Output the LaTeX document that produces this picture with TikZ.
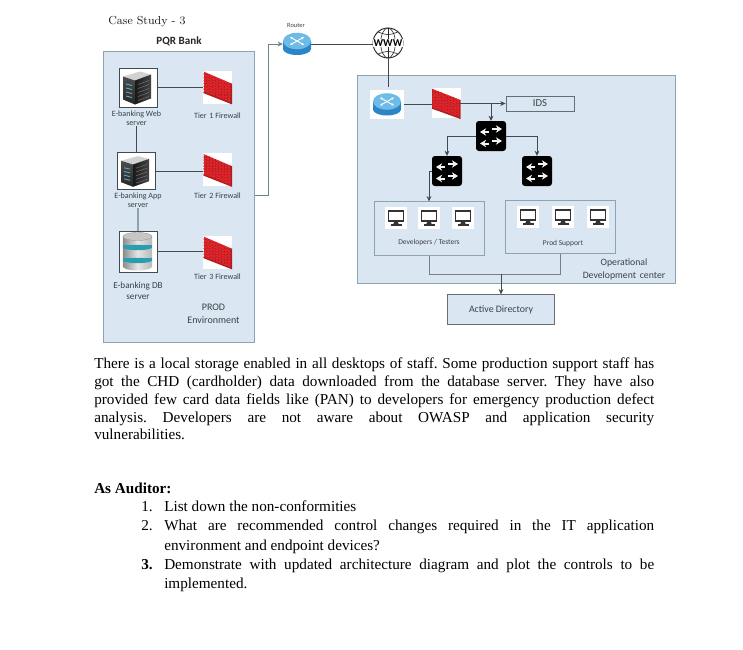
\documentclass[tikz,border=0pt]{standalone}
\usepackage{fontspec}
\usetikzlibrary{arrows.meta,calc}
\newfontfamily\bodyf{Liberation Serif}
\newfontfamily\carl{Carlito}
\definecolor{panel}{HTML}{DAE6F1}
\definecolor{edge}{HTML}{8FA3AE}
\definecolor{wire}{HTML}{404A50}
\definecolor{lab}{HTML}{3A4248}
\definecolor{brick}{HTML}{E3262C}
\definecolor{brickd}{HTML}{B01C20}
\definecolor{rtop}{HTML}{6DBBE6}
\definecolor{rside}{HTML}{2B86C5}
\definecolor{band}{HTML}{2C9DB0}
\tikzset{
  x=0.75pt,y=-0.75pt,
  box/.style={draw=edge,fill=panel,line width=0.8pt,inner sep=0pt},
  iconbox/.style={inner sep=0pt,outer sep=0pt},
  wirel/.style={draw=wire,line width=0.6pt},
  arr/.style={wirel,-{Stealth[length=4pt,width=3.6pt]}},
  lbl/.style={font=\carl\fontsize{6.05pt}{7pt}\selectfont,text=lab,align=center,inner sep=0pt},
  lblb/.style={font=\carl\fontsize{6.9pt}{8.6pt}\selectfont,text=lab,align=center,inner sep=0pt},
  swarrow/.style={draw=white!90!gray,line width=1.5pt,-{Stealth[length=4.6pt,width=5.6pt]}},
  pics/firewall/.style={code={
    \fill[white] (-14.5,-16.5) rectangle (14.5,16.5);
    \begin{scope}
      \clip (-14,-15.5) -- (14,-3.5) -- (14,16.5) -- (-14,5.5) -- cycle;
      \fill[brick] (-14,-16) rectangle (14,17);
      \foreach \k in {-26,-23.5,...,16} {\draw[brickd,line width=0.25pt] (-14,\k) -- (14,\k+12);}
      \foreach \k in {-14,-11,...,14} {\draw[brickd,line width=0.25pt,dash pattern=on 1pt off 1.2pt] (\k,-16) -- (\k,17);}
    \end{scope}
    \draw[brickd,line width=0.9pt] (14,-3.5) -- (14,16.5) -- (-14,5.5);
  }},
  pics/server/.style={code={
    \draw[draw=wire,fill=white,line width=0.6pt] (-19,-19.5) rectangle (19,19.5);
    \fill[gray!35] (-15,-11) -- (2,-16) -- (13,-13) -- (-3,-7) -- cycle;
    \shade[top color=gray!60!black,bottom color=black!85] (-15,-11) -- (-3,-7) -- (-3,17) -- (-15,12) -- cycle;
    \shade[left color=black!90,right color=gray!55!black] (-3,-7) -- (13,-13) -- (13,11) -- (-3,17) -- cycle;
    \foreach \a in {-4,0,4,8} {\fill[cyan!50!gray] (-12,\a) -- (-6,\a+1.5) -- (-6,\a+2.5) -- (-12,\a+1) -- cycle;}
    \foreach \a in {-3,1,5,9,13} {\draw[gray,line width=0.3pt] (0,\a) -- (11,\a-4);}
  }},
  pics/database/.style={code={
    \draw[draw=wire,fill=white,line width=0.6pt] (-19,-20.5) rectangle (19,20.5);
    \shade[left color=gray!90,right color=gray!55,middle color=gray!20] (-15,-15) -- (14,-15) -- (14,15) arc[start angle=0,end angle=-180,x radius=10.9pt,y radius=3pt] -- cycle;
    \foreach \a in {-7,6} {
      \fill[band] (-15,\a) rectangle (14,\a+3);
      \fill[band] (-0.5,\a+3) ellipse[x radius=10.9pt,y radius=2pt];
    }
    \fill[gray!45] (-0.5,-15) ellipse[x radius=10.9pt,y radius=3pt];
    \draw[gray!80,line width=0.3pt] (-0.5,-15) ellipse[x radius=10.9pt,y radius=3pt];
  }},
  pics/router/.style={code={
    \fill[rside] (-14,-3) -- (14,-3) -- (14,5) arc[start angle=0,end angle=-180,x radius=10.5pt,y radius=4.5pt] -- cycle;
    \fill[rtop] (0,-3) ellipse[x radius=10.5pt,y radius=6.2pt];
    \draw[white,line width=0.7pt,{Stealth[length=2pt,width=2pt]}-{Stealth[length=2pt,width=2pt]}] (-7,-7) -- (7,1);
    \draw[white,line width=0.7pt,{Stealth[length=2pt,width=2pt]}-{Stealth[length=2pt,width=2pt]}] (7,-7) -- (-7,1);
  }},
  pics/monitor/.style={code={
    \fill[white] (-11,-11) rectangle (11,11);
    \draw[black!80,line width=1pt,fill=white] (-7.5,-7) rectangle (7.5,3);
    \fill[black!80] (-1.5,3) -- (1.5,3) -- (3,7) -- (-3,7) -- cycle;
    \fill[black!80] (-5.5,6.4) rectangle (5.5,7.6);
  }},
  pics/switchbox/.style={code={
    \fill[black,rounded corners=2.2pt] (-15,-15) rectangle (15,15);
    \draw[swarrow] (-2,-4) -- (-11,-4);
    \draw[swarrow] (1,-7) -- (11,-7);
    \draw[swarrow] (-2,7.5) -- (-11,7.5);
    \draw[swarrow] (1,5) -- (11,5);
  }},
}
\begin{document}
\begin{tikzpicture}
\useasboundingbox (0,0) rectangle (743,650);
\fill[white] (0,0) rectangle (743,650);

% headings
\node[anchor=west,inner sep=0pt,font=\fontsize{8.7pt}{10pt}\selectfont,text=black!90] (cs) at (108,22) {Case Study - 3};
\node[inner sep=0pt,font=\carl\bfseries\fontsize{8.3pt}{10pt}\selectfont,text=black!85] (bank) at (179,41) {PQR Bank};

% panels
\node[box,minimum width=113.5pt,minimum height=218pt] (pqr) at (179,197) {};
\node[box,minimum width=238.5pt,minimum height=155.5pt] (odc) at (516.5,179.5) {};

% PROD icons
\node[iconbox,minimum width=28.5pt,minimum height=29.2pt] (srv1) at (138,87.5) {};
\pic at (srv1) {server};
\node[iconbox,minimum width=28.5pt,minimum height=27pt] (srv2) at (136,171) {};
\pic[yscale=0.93] at (srv2) {server};
\node[iconbox,minimum width=28.5pt,minimum height=30.8pt] (db) at (138,251.5) {};
\pic at (db) {database};
\node[iconbox,minimum width=21.7pt,minimum height=24.7pt] (fw1) at (217.5,87) {};
\pic at (fw1) {firewall};
\node[iconbox,minimum width=21.7pt,minimum height=24.7pt] (fw2) at (217.5,169.5) {};
\pic at (fw2) {firewall};
\node[iconbox,minimum width=21.7pt,minimum height=24.7pt] (fw3) at (217.5,252) {};
\pic at (fw3) {firewall};

\node[lbl] (srv1lab) at (136.5,118) {E-banking Web\\server};
\node[lbl] (srv2lab) at (138,200) {E-banking App\\server};
\node[lblb] (dblab) at (138,291) {E-banking DB\\server};
\node[lbl] (t1) at (217.5,115.5) {Tier\,\,1 Firewall};
\node[lbl] (t2) at (217.5,195.5) {Tier\,\,2 Firewall};
\node[lbl] (t3) at (217.5,276.5) {Tier\,\,3 Firewall};
\node[lblb,font=\carl\fontsize{7.5pt}{9.5pt}\selectfont] (prod) at (213.5,314) {PROD\\Environment};

\draw[wirel] (srv1.east) -- (srv1.east -| fw1.west);
\draw[wirel] (srv2.east) -- (srv2.east -| fw2.west);
\draw[wirel] (db.east) -- (db.east -| fw3.west);
\draw[wirel] (srv1lab.south -| srv2.north) -- (srv2.north);
\draw[wirel,draw=edge,line width=0.8pt] (srv2lab.south) -- (db.north);

% top chain
\node[iconbox,minimum width=21pt,minimum height=16.5pt] (r1) at (297,44) {};
\pic at (r1) {router};
\node[lbl,font=\carl\fontsize{4.8pt}{5pt}\selectfont] (rlab) at (296,25) {Router};
\coordinate (bus) at (268,44);
\draw[arr,draw=edge!80!black,line width=0.7pt] (t2 -| pqr.east) -| (bus) -- (r1.west);

\node[circle,draw=black!85,line width=0.7pt,minimum size=22.5pt,inner sep=0pt] (www) at (388,43) {};
\begin{scope}[shift={(388,43)}]
  \draw[black!85,line width=0.45pt] (0,0) ellipse[x radius=5.5pt,y radius=11.2pt];
  \draw[black!85,line width=0.45pt] (0,-15) -- (0,15);
  \draw[black!85,line width=0.45pt] (-10,-11) .. controls (0,-7.5) .. (10,-11);
  \draw[black!85,line width=0.45pt] (-10,11) .. controls (0,7.5) .. (10,11);
\end{scope}
\node[inner sep=0.2pt,fill=white,font=\carl\bfseries\fontsize{7.9pt}{8pt}\selectfont] (wwwt) at (388,43) {WWW};
\draw[wirel] (r1.east) -- (r1.east -| www.west);

% ODC top
\node[iconbox,minimum width=25.5pt,minimum height=22pt,fill=white] (r2) at (387,104.5) {};
\pic at (r2) {router};
\node[iconbox,minimum width=21.7pt,minimum height=24.7pt] (fw4) at (446,103) {};
\pic[yscale=0.92] at (fw4) {firewall};
\node[draw=wire!80,fill=panel,line width=0.6pt,minimum width=51pt,minimum height=11.2pt,inner sep=0pt,font=\carl\fontsize{8pt}{9pt}\selectfont,text=lab] (ids) at (540,103.5) {IDS};
\node[iconbox,minimum width=22.5pt,minimum height=22.5pt] (sw1) at (491,136) {};
\pic at (sw1) {switchbox};
\node[iconbox,minimum width=22.5pt,minimum height=22.5pt] (sw2) at (447,171) {};
\pic at (sw2) {switchbox};
\node[iconbox,minimum width=22.5pt,minimum height=22.5pt] (sw3) at (537,171) {};
\pic at (sw3) {switchbox};

\draw[wirel] (www.south) -- ([yshift=2pt]r2.north -| www.south);
\draw[wirel] (r2.east) -- (r2.east -| fw4.west);
\draw[arr] (ids.west -| fw4.east) -- (ids.west);
\draw[arr] (ids.west -| sw1.north) -- (sw1.north);
\draw[arr] (sw1.west) -| (sw2.north);
\draw[arr] (sw1.east) -| (sw3.north);

% user groups
\node[box,line width=0.6pt,minimum width=82.5pt,minimum height=40pt] (dev) at (429,228.5) {};
\node[box,line width=0.6pt,minimum width=82.5pt,minimum height=40pt] (sup) at (560,227) {};
\node[iconbox,minimum size=16.5pt] (m1) at (396,218) {}; \pic at (m1) {monitor};
\node[iconbox,minimum size=16.5pt] (m2) at (429,218) {}; \pic at (m2) {monitor};
\node[iconbox,minimum size=16.5pt] (m3) at (463,218) {}; \pic at (m3) {monitor};
\node[iconbox,minimum size=16.5pt] (m4) at (528,217) {}; \pic at (m4) {monitor};
\node[iconbox,minimum size=16.5pt] (m5) at (563,217) {}; \pic at (m5) {monitor};
\node[iconbox,minimum size=16.5pt] (m6) at (598,217) {}; \pic at (m6) {monitor};
\node[lbl,font=\carl\fontsize{5.6pt}{7pt}\selectfont] (devt) at (429,243) {Developers / Testers};
\node[lbl,font=\carl\fontsize{5.6pt}{7pt}\selectfont] (supt) at (563,244) {Prod Support};
\node[lblb,font=\carl\fontsize{7.3pt}{9.8pt}\selectfont] (odct) at (624,269) {Operational\\Development\, center};

\draw[arr] (sw2.west) -| (dev.north);

% active directory
\node[draw=wire!80,fill=panel,line width=0.7pt,minimum width=80.2pt,minimum height=22pt,inner sep=0pt,font=\carl\fontsize{7.4pt}{9pt}\selectfont,text=lab] (ad) at (501,309.5) {Active Directory};
\coordinate (jn) at ($(ad.north)+(0,-20)$);
\draw[wirel,draw=wire!70] (dev.south) |- (jn);
\draw[wirel,draw=wire!70] (sup.south) |- (jn);
\draw[arr] (jn) -- (ad.north);

% body text
\node[anchor=north west,inner sep=0pt,text width=420pt,align=justify,font=\bodyf\fontsize{11.4pt}{13.3pt}\selectfont] (para) at (94,358) {\frenchspacing There is a local storage enabled in all desktops of staff. Some production support staff has\linebreak got the CHD (cardholder) data downloaded from the database server. They have also\linebreak provided few card data fields like (PAN) to developers for emergency production defect\linebreak analysis. Developers are not aware about OWASP and application security\linebreak vulnerabilities.};
\node[anchor=west,inner sep=0pt,font=\bodyf\bfseries\fontsize{11.4pt}{13.3pt}\selectfont] (aud) at (94,488) {As Auditor:};
\tikzset{num/.style={anchor=base west,inner sep=0pt,font=\bodyf\fontsize{11.4pt}{13.3pt}\selectfont},
  item/.style={anchor=north west,inner sep=0pt,text width=367.5pt,align=justify,font=\bodyf\fontsize{11.4pt}{14.4pt}\selectfont}}
\node[num] (n1) at (141,511.5) {1.};
\node[item] (i1) at (164,500.5) {List down the non-conformities};
\node[num] (n2) at (141,530.5) {2.};
\node[item] (i2) at (164,520) {What are recommended control changes required in the IT application\linebreak environment and endpoint devices?};
\node[num,font=\bodyf\bfseries\fontsize{11.4pt}{13.3pt}\selectfont] (n3) at (141,569.5) {3.};
\node[item] (i3) at (164,558.5) {Demonstrate with updated architecture diagram and plot the controls to be\linebreak implemented.};
\end{tikzpicture}
\end{document}
